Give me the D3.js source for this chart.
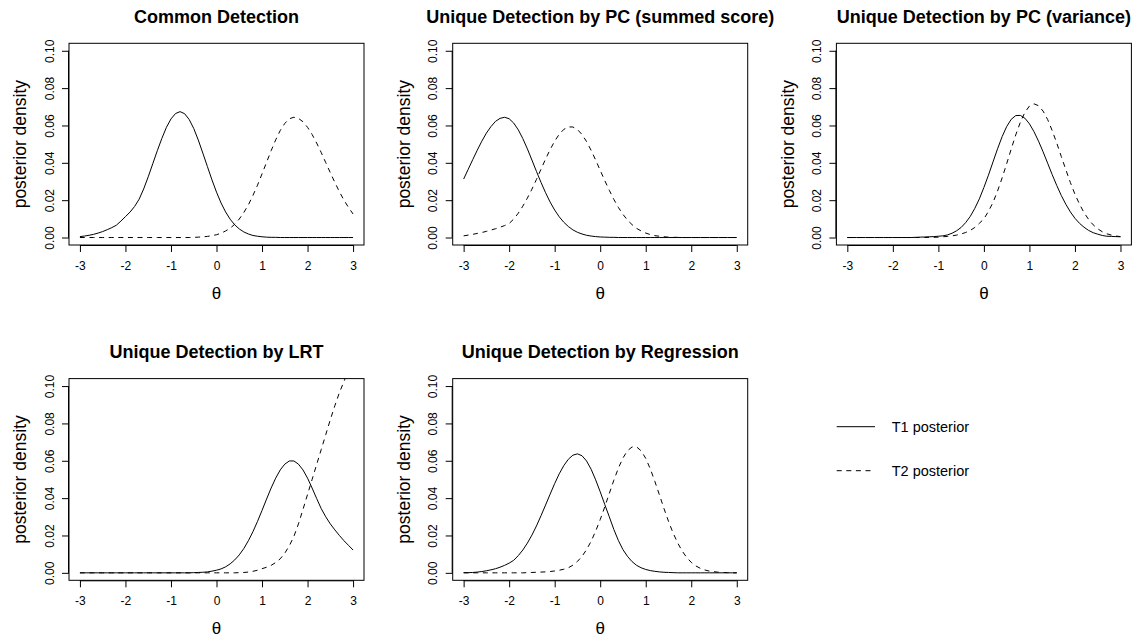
<!DOCTYPE html>
<html>
<head>
<meta charset="utf-8">
<script src="https://cdn.jsdelivr.net/npm/d3@7/dist/d3.min.js"></script>
<style>
  html, body { margin: 0; padding: 0; background: #fff; }
  svg { display: block; font-family: "Liberation Sans", Arial, sans-serif; }
</style>
</head>
<body>
<svg id="chart" width="1141" height="638"></svg>
<script>
// Quadrature grid of theta values
const theta = [-3.0,-2.9,-2.8,-2.7,-2.6,-2.5,-2.4,-2.3,-2.2,-2.1,
  -2.0,-1.9,-1.8,-1.7,-1.6,-1.5,-1.4,-1.3,-1.2,-1.1,
  -1.0,-0.9,-0.8,-0.7,-0.6,-0.5,-0.4,-0.3,-0.2,-0.1,
  0.0,0.1,0.2,0.3,0.4,0.5,0.6,0.7,0.8,0.9,
  1.0,1.1,1.2,1.3,1.4,1.5,1.6,1.7,1.8,1.9,
  2.0,2.1,2.2,2.3,2.4,2.5,2.6,2.7,2.8,2.9,
  3.0];

// Posterior densities on the grid, T1 and T2, for each detection method
const commonT1 = [.0005,.0008,.0012,.0017,.0024,.0032,.0042,.0053,.0066,.0088,
  .0112,.0136,.0166,.0205,.0260,.0325,.0395,.0465,.0531,.0590,
  .0635,.0664,.0674,.0663,.0632,.0584,.0522,.0452,.0380,.0309,
  .0243,.0185,.0137,.0098,.0068,.0046,.0030,.0019,.0011,.0007,
  .0004,.0002,.0001,.0001,0,0,0,0,0,0,
  0,0,0,0,0,0,0,0,0,0,
  0];
const commonT2 = [0,0,0,0,0,0,0,0,0,0,
  0,0,0,0,0,0,0,0,0,0,
  0,0,0,0,0,.0001,.0002,.0004,.0006,.0010,
  .0015,.0023,.0035,.0050,.0071,.0099,.0134,.0175,.0225,.0280,
  .0341,.0403,.0465,.0523,.0573,.0611,.0636,.0644,.0638,.0620,
  .0590,.0552,.0506,.0455,.0401,.0347,.0295,.0245,.0200,.0161,
  .0126];

const pcSumT1 = [.0313,.0365,.0417,.0468,.0516,.0559,.0594,.0622,.0638,.0644,
  .0636,.0613,.0577,.0530,.0475,.0415,.0354,.0295,.0240,.0190,
  .0147,.0111,.0082,.0059,.0041,.0028,.0019,.0012,.0008,.0005,
  .0003,.0002,.0001,.0001,0,0,0,0,0,0,
  0,0,0,0,0,0,0,0,0,0,
  0,0,0,0,0,0,0,0,0,0,
  0];
const pcSumT2 = [.0009,.0013,.0017,.0022,.0027,.0033,.0040,.0047,.0055,.0064,
  .0075,.0099,.0130,.0168,.0211,.0259,.0311,.0366,.0420,.0471,
  .0516,.0553,.0579,.0592,.0592,.0578,.0552,.0514,.0467,.0415,
  .0360,.0305,.0253,.0204,.0161,.0124,.0093,.0069,.0049,.0035,
  .0024,.0016,.0010,.0007,.0004,.0002,.0001,.0001,0,0,
  0,0,0,0,0,0,0,0,0,0,
  0];

const pcVarT1 = [0,0,0,0,0,0,0,0,0,0,
  0,0,0,0,0,.0001,.0002,.0003,.0004,.0005,
  .0007,.0009,.0014,.0023,.0036,.0054,.0080,.0113,.0156,.0207,
  .0268,.0334,.0405,.0475,.0540,.0594,.0633,.0653,.0654,.0639,
  .0609,.0567,.0516,.0459,.0398,.0337,.0279,.0225,.0178,.0137,
  .0103,.0076,.0055,.0038,.0026,.0018,.0011,.0007,.0006,.0005,
  .0004];
const pcVarT2 = [0,0,0,0,0,0,0,0,0,0,
  0,0,0,0,0,0,0,0,.0001,.0001,
  .0002,.0004,.0006,.0009,.0013,.0019,.0027,.0038,.0054,.0076,
  .0100,.0140,.0188,.0249,.0319,.0395,.0474,.0550,.0617,.0670,
  .0704,.0716,.0706,.0677,.0632,.0573,.0506,.0434,.0363,.0294,
  .0232,.0179,.0133,.0097,.0068,.0047,.0031,.0020,.0013,.0008,
  .0005];

const lrtT1 = [0,0,0,0,0,0,0,0,0,0,
  0,0,0,0,0,0,0,0,0,0,
  0,0,0,0,0,.0001,.0002,.0003,.0005,.0009,
  .0014,.0021,.0032,.0048,.0069,.0096,.0130,.0172,.0220,.0275,
  .0334,.0395,.0454,.0507,.0551,.0582,.0599,.0599,.0582,.0551,
  .0507,.0454,.0398,.0344,.0300,.0262,.0230,.0200,.0172,.0147,
  .0122];
const lrtT2 = [0,0,0,0,0,0,0,0,0,0,
  0,0,0,0,0,0,0,0,0,0,
  0,0,0,0,0,0,0,0,0,0,
  0,0,0,0,0,.0001,.0002,.0004,.0008,.0014,
  .0022,.0030,.0040,.0055,.0075,.0105,.0145,.0195,.0262,.0340,
  .0420,.0500,.0580,.0660,.0740,.0820,.0895,.0965,.1025,.1080,
  .1130];

const regT1 = [.0001,.0001,.0002,.0004,.0007,.0011,.0016,.0022,.0030,.0040,
  .0052,.0067,.0092,.0122,.0159,.0202,.0251,.0306,.0363,.0421,
  .0478,.0530,.0574,.0608,.0630,.0637,.0627,.0599,.0555,.0498,
  .0434,.0366,.0300,.0232,.0173,.0124,.0088,.0060,.0040,.0027,
  .0018,.0012,.0008,.0005,.0003,.0002,.0001,0,0,0,
  0,0,0,0,0,0,0,0,0,0,
  0];
const regT2 = [0,0,0,0,0,0,0,0,0,0,
  0,0,0,0,.0001,.0002,.0003,.0004,.0005,.0007,
  .0010,.0014,.0019,.0027,.0041,.0061,.0088,.0124,.0169,.0223,
  .0285,.0353,.0425,.0496,.0561,.0615,.0654,.0674,.0674,.0653,
  .0613,.0557,.0490,.0418,.0345,.0276,.0214,.0161,.0117,.0082,
  .0056,.0037,.0024,.0015,.0009,.0006,.0003,.0002,.0001,0,
  0];

const panelTitles = [
  "Common Detection",
  "Unique Detection by PC (summed score)",
  "Unique Detection by PC (variance)",
  "Unique Detection by LRT",
  "Unique Detection by Regression"
];
const seriesT1 = [commonT1, pcSumT1, pcVarT1, lrtT1, regT1];
const seriesT2 = [commonT2, pcSumT2, pcVarT2, lrtT2, regT2];

const xTicks = [-3, -2, -1, 0, 1, 2, 3];
const yTicks = [0, 0.02, 0.04, 0.06, 0.08, 0.10];
const xLabel = "θ";
const yLabel = "posterior density";
const legendLabels = ["T1 posterior", "T2 posterior"];

// Layout: 2 x 3 grid of figure cells, each with a plot box inside
const cellW = 383.7, cellH = 335.3;
const box = { left: 69, top: 43.3, width: 295, height: 201.7 };
const dashPattern = "5,4.6";
const fontFamily = "Liberation Sans, Arial, sans-serif";

const svg = d3.select("#chart");
const defs = svg.append("defs");

panelTitles.forEach((title, i) => {
  const col = i % 3, row = Math.floor(i / 3);
  const bx = col * cellW + box.left;
  const by = row * cellH + box.top;

  const x = d3.scaleLinear().domain([-3.24, 3.24]).range([bx, bx + box.width]);
  const y = d3.scaleLinear().domain([-0.004, 0.104]).range([by + box.height, by]);

  const g = svg.append("g");

  // clip curves to the plot box
  const clipId = "clip" + i;
  defs.append("clipPath").attr("id", clipId)
    .append("rect").attr("x", bx).attr("y", by)
    .attr("width", box.width).attr("height", box.height);

  const line = d3.line().x((d, k) => x(theta[k])).y(d => y(d));

  const curves = g.append("g").attr("clip-path", `url(#${clipId})`);
  curves.append("path").datum(seriesT1[i])
    .attr("d", line).attr("fill", "none")
    .attr("stroke", "#000").attr("stroke-width", 1);
  curves.append("path").datum(seriesT2[i])
    .attr("d", line).attr("fill", "none")
    .attr("stroke", "#000").attr("stroke-width", 1)
    .attr("stroke-dasharray", dashPattern);

  // x axis
  const xAxis = d3.axisBottom(x).tickValues(xTicks)
    .tickSize(7).tickPadding(9).tickFormat(d3.format("d"));
  const xa = g.append("g").attr("transform", `translate(0,${by + box.height})`).call(xAxis);
  xa.select(".domain").attr("d", `M${x(-3)},0.5H${x(3)}`).attr("stroke", "#000");
  xa.selectAll(".tick line").attr("stroke", "#000");
  xa.selectAll(".tick text")
    .attr("font-size", "12px").attr("fill", "#000")
    .attr("font-family", fontFamily)
    .text(d => d < 0 ? "-" + Math.abs(d) : String(d));

  // y axis
  const yAxis = d3.axisLeft(y).tickValues(yTicks)
    .tickSize(7).tickFormat(d3.format(".2f"));
  const ya = g.append("g").attr("transform", `translate(${bx},0)`).call(yAxis);
  ya.select(".domain").attr("d", `M-0.5,${y(0)}V${y(0.10)}`).attr("stroke", "#000");
  ya.selectAll(".tick line").attr("stroke", "#000");
  ya.selectAll(".tick text")
    .attr("font-size", "12px").attr("fill", "#000")
    .attr("font-family", fontFamily)
    .attr("x", null)
    .attr("text-anchor", "middle")
    .attr("transform", "translate(-19.5,0) rotate(-90)")
    .attr("dy", "0.35em");

  // plot frame
  g.append("rect")
    .attr("x", bx).attr("y", by)
    .attr("width", box.width).attr("height", box.height)
    .attr("fill", "none").attr("stroke", "#000").attr("stroke-width", 1);

  // title
  g.append("text")
    .attr("x", bx + box.width / 2).attr("y", by - 27)
    .attr("text-anchor", "middle").attr("dy", "0.35em")
    .attr("font-size", "18px").attr("font-weight", "bold").attr("fill", "#000")
    .text(title);

  // axis labels
  g.append("text")
    .attr("x", bx + box.width / 2).attr("y", by + box.height + 48)
    .attr("text-anchor", "middle").attr("dy", "0.35em")
    .attr("font-size", "17px").attr("fill", "#000")
    .text(xLabel);
  g.append("text")
    .attr("transform", `translate(${bx - 49},${by + box.height / 2}) rotate(-90)`)
    .attr("text-anchor", "middle").attr("dy", "0.35em")
    .attr("font-size", "17.5px").attr("fill", "#000")
    .text(yLabel);
});

// legend in the empty sixth cell
const legend = svg.append("g");
const legendX = 836.7, legendY = [426.7, 470.7];
legendLabels.forEach((label, k) => {
  legend.append("line")
    .attr("x1", legendX).attr("x2", legendX + 38.3)
    .attr("y1", legendY[k]).attr("y2", legendY[k])
    .attr("stroke", "#000").attr("stroke-width", 1)
    .attr("stroke-dasharray", k === 1 ? dashPattern : null);
  legend.append("text")
    .attr("x", legendX + 55).attr("y", legendY[k])
    .attr("dy", "0.35em").attr("font-size", "14.5px").attr("fill", "#000")
    .attr("font-family", fontFamily)
    .text(label);
});
</script>
</body>
</html>
